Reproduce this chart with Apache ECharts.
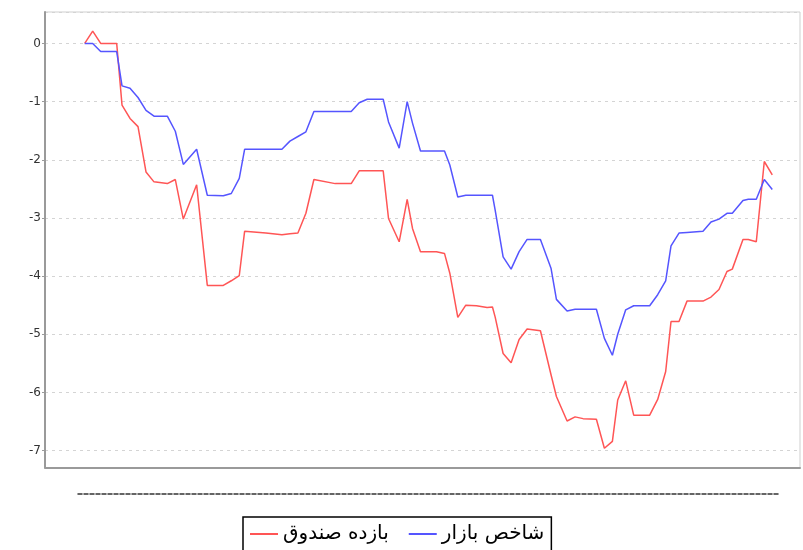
<!DOCTYPE html>
<html>
<head>
<meta charset="utf-8">
<script src="https://cdn.jsdelivr.net/npm/echarts@6/dist/echarts.min.js"></script>
<style>html,body{margin:0;padding:0;background:#fff;}#c{width:803px;height:550px;}</style>
</head>
<body>
<div id="c"></div>
<script>
// x positions (day offsets from start)
const days = [0,3,6,12,14,17,20,23,26,31,34,37,42,46,52,55,58,60,68,74,77,80,83,86,94,100,103,106,112,114,118,121,123,126,132,135,137,140,143,147,151,153,154,157,160,163,166,171,175,177,181,184,187,192,195,198,200,203,206,212,215,218,220,223,226,232,235,238,241,243,247,249,252,255,258];
// بازده صندوق (fund return)
const fundReturn = [0,0.21,0,0,-1.06,-1.29,-1.43,-2.21,-2.38,-2.41,-2.34,-3.02,-2.43,-4.16,-4.16,-4.08,-3.99,-3.23,-3.26,-3.29,-3.27,-3.26,-2.92,-2.34,-2.41,-2.41,-2.19,-2.19,-2.19,-3.01,-3.41,-2.68,-3.18,-3.58,-3.58,-3.61,-3.95,-4.71,-4.50,-4.51,-4.54,-4.53,-4.70,-5.33,-5.49,-5.09,-4.91,-4.94,-5.70,-6.07,-6.49,-6.42,-6.45,-6.46,-6.96,-6.84,-6.13,-5.80,-6.39,-6.39,-6.12,-5.64,-4.78,-4.78,-4.43,-4.43,-4.36,-4.23,-3.92,-3.88,-3.37,-3.37,-3.41,-2.03,-2.26];
// شاخص بازار (market index)
const marketIndex = [0,0,-0.14,-0.14,-0.73,-0.77,-0.93,-1.15,-1.25,-1.25,-1.51,-2.08,-1.82,-2.61,-2.62,-2.58,-2.32,-1.82,-1.82,-1.82,-1.68,-1.60,-1.52,-1.17,-1.17,-1.17,-1.02,-0.96,-0.96,-1.35,-1.80,-1.00,-1.37,-1.85,-1.85,-1.85,-2.09,-2.64,-2.61,-2.61,-2.61,-2.61,-2.86,-3.67,-3.88,-3.58,-3.37,-3.37,-3.87,-4.40,-4.60,-4.57,-4.57,-4.57,-5.07,-5.36,-5.00,-4.58,-4.51,-4.51,-4.32,-4.08,-3.48,-3.26,-3.25,-3.23,-3.07,-3.02,-2.92,-2.92,-2.70,-2.68,-2.68,-2.34,-2.51];
const seriesNames = ['بازده صندوق', 'شاخص بازار'];

const pair = (vals) => days.map((d, i) => [d, vals[i]]);
const font = 'DejaVu Sans';

const chart = echarts.init(document.getElementById('c'), null, {renderer: 'canvas'});
chart.setOption({
  animation: false,
  backgroundColor: '#fff',
  textStyle: {fontFamily: font},
  grid: [
    {left: 45, right: 3, top: 12, bottom: 82.5, show: true, borderColor: '#cfcfcf', borderWidth: 1},
    {left: 78, right: 25, top: 494, height: 1, show: false}
  ],
  xAxis: [
    {type: 'value', gridIndex: 0, min: -14.9, max: 268.4,
     axisLine: {show: true, onZero: false, lineStyle: {color: '#9a9a9a', width: 2}},
     axisTick: {show: false}, axisLabel: {show: false}, splitLine: {show: false}},
    {type: 'value', gridIndex: 1, position: 'top', min: 0, max: 1,
     axisLine: {show: true, onZero: false, lineStyle: {color: '#333', width: 1.5, type: [4, 2]}},
     axisTick: {show: false}, axisLabel: {show: false}, splitLine: {show: false}}
  ],
  yAxis: [
    {type: 'value', gridIndex: 0, min: -7.29, max: 0.54, splitNumber: 8,
     axisLine: {show: true, onZero: false, lineStyle: {color: '#9a9a9a', width: 2}},
     axisTick: {show: true, length: 3, lineStyle: {color: '#9a9a9a'}},
     axisLabel: {color: '#333', fontSize: 12, fontFamily: font, margin: 4,
       showMinLabel: false, showMaxLabel: false,
       formatter: v => (Math.abs(v - Math.round(v)) < 1e-6 ? String(Math.round(v)) : '')},
     splitLine: {show: true, lineStyle: {color: '#d4d4d4', width: 1, type: [3, 4]}}},
    {type: 'value', gridIndex: 1, show: false}
  ],
  legend: {
    left: 243, top: 517,
    data: seriesNames,
    icon: 'rect', itemWidth: 28, itemHeight: 2, itemGap: 20,
    padding: [7, 7, 10, 7],
    borderColor: '#000', borderWidth: 1.5, backgroundColor: '#fff',
    textStyle: {color: '#000', fontSize: 20, fontFamily: font}
  },
  series: [
    {name: seriesNames[0], type: 'line', data: pair(fundReturn), showSymbol: false,
     lineStyle: {color: '#FF5555', width: 1.5}, itemStyle: {color: '#FF5555'}},
    {name: seriesNames[1], type: 'line', data: pair(marketIndex), showSymbol: false,
     lineStyle: {color: '#5555FF', width: 1.5}, itemStyle: {color: '#5555FF'}}
  ]
});
</script>
</body>
</html>
